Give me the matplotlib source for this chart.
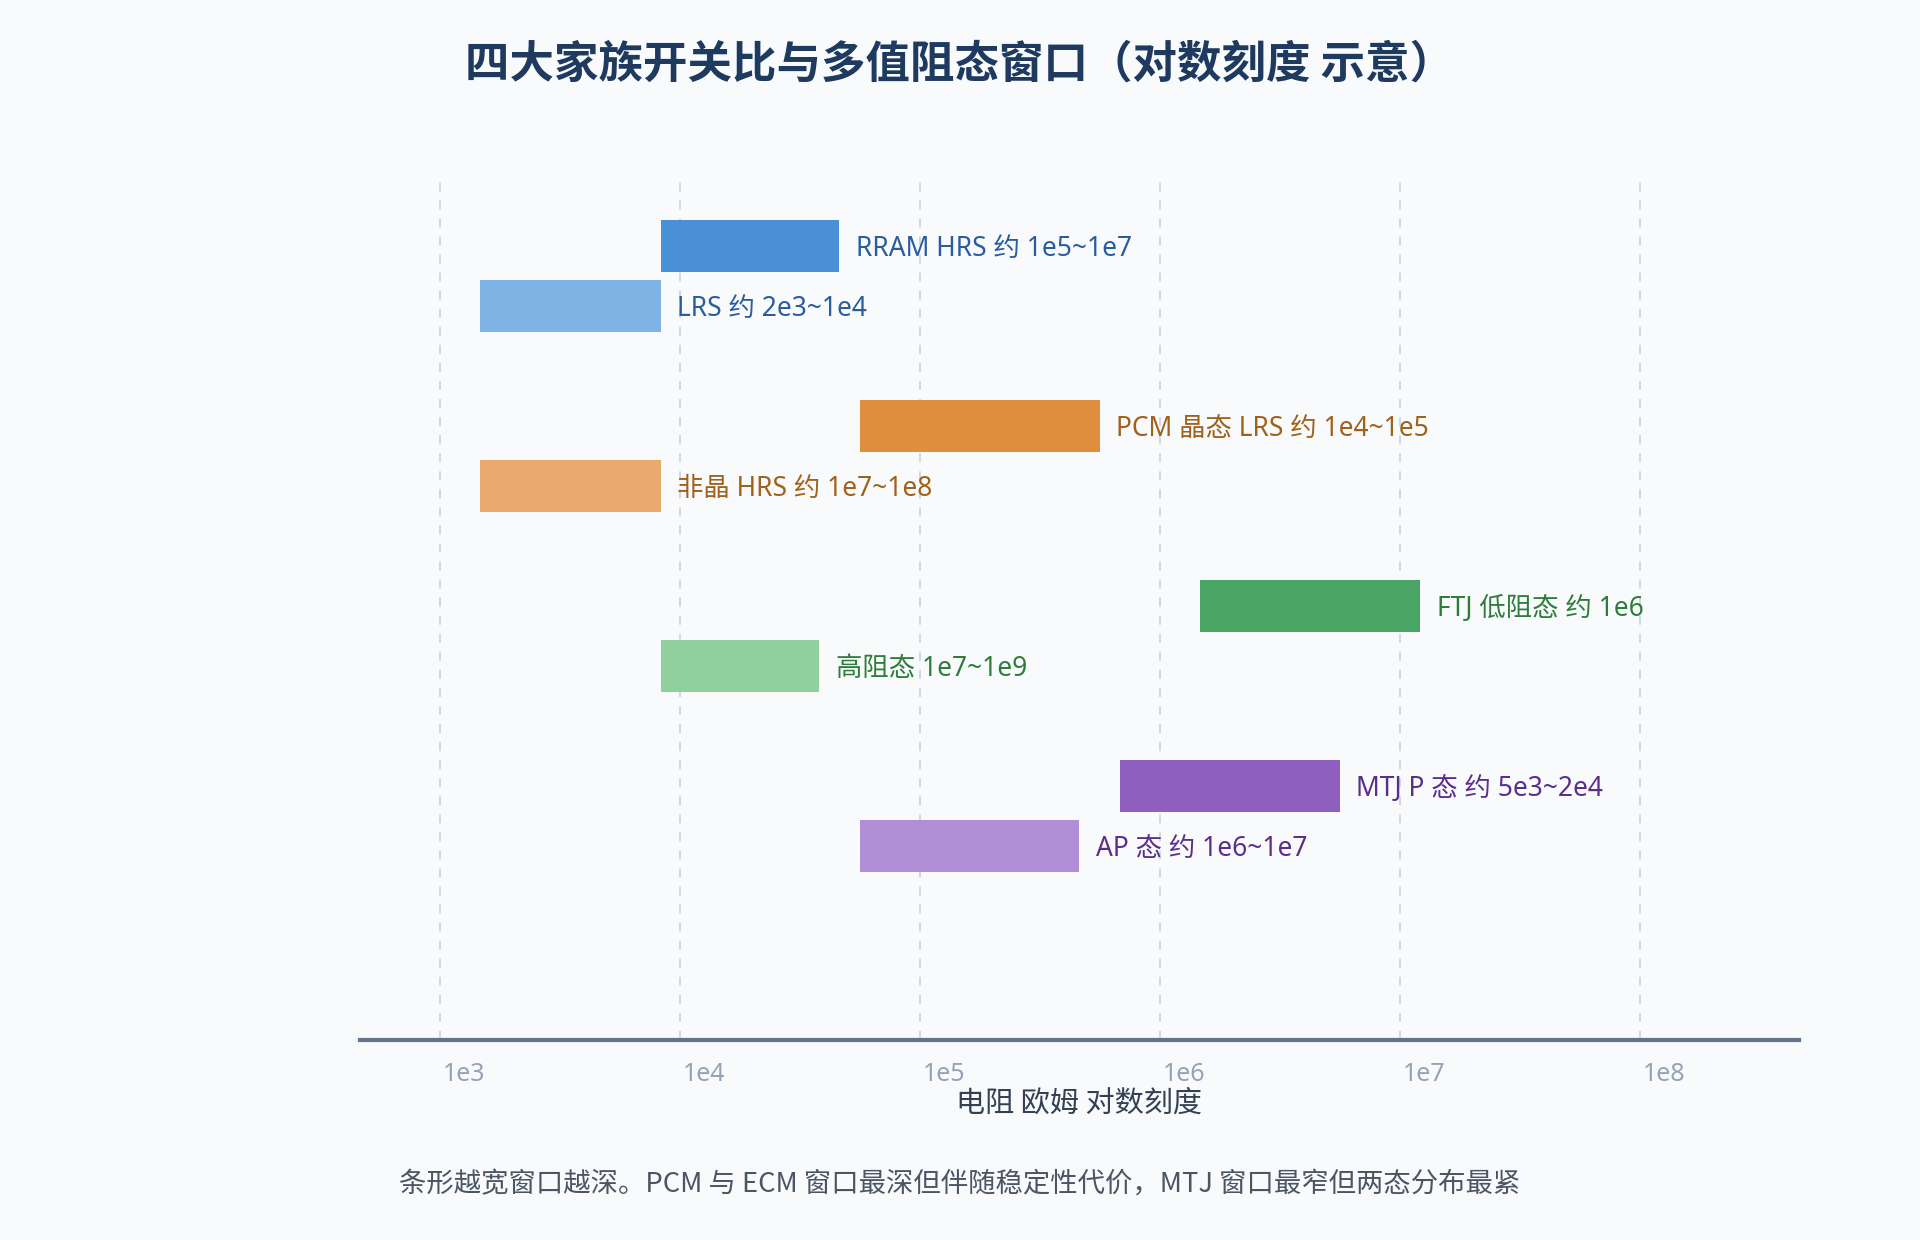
import numpy as np
import matplotlib
matplotlib.use("Agg")
from matplotlib import pyplot as plt
from matplotlib.transforms import ScaledTranslation

plt.rcParams['font.family'] = ['Noto Sans', 'Noto Sans CJK SC', 'DejaVu Sans']

# bar data (ohm)
labels = ["RRAM HRS 约 1e5~1e7", "LRS 约 2e3~1e4",
          "PCM 晶态 LRS 约 1e4~1e5", "非晶 HRS 约 1e7~1e8",
          "FTJ 低阻态 约 1e6", "高阻态 1e7~1e9",
          "MTJ P 态 约 5e3~2e4", "AP 态 约 1e6~1e7"]
r_start = [8.3e3, 1.47e3, 5.6e4, 1.47e3, 1.47e6, 8.3e3, 6.8e5, 5.6e4]
r_end = [4.6e4, 8.3e3, 5.6e5, 8.3e3, 1.21e7, 3.8e4, 5.6e6, 4.6e5]
rows = [0, 1, 3, 4, 6, 7, 9, 10]

bar_colors = ["#4a90d9", "#7fb2e5", "#e08e3c", "#e9aa6e",
              "#4aa664", "#90d09e", "#8f5fbf", "#b18fd6"]
text_colors = ["#2a5d9f", "#2a5d9f", "#a0611b", "#a0611b",
               "#2e7d3a", "#2e7d3a", "#5b2e8c", "#5b2e8c"]

tick_vals = [1e3, 1e4, 1e5, 1e6, 1e7, 1e8]
tick_text = ["1e3", "1e4", "1e5", "1e6", "1e7", "1e8"]

bg = "#f8fafc"
fig = plt.figure(figsize=(19.2, 12.4), dpi=100, facecolor=bg)
ax = fig.add_axes([360 / 1920, 200 / 1240, 1439 / 1920, 860 / 1240])
ax.set_facecolor(bg)

ax.set_xscale('log')
ax.set_xlim(10 ** 2.6667, 10 ** 8.6625)
ax.set_ylim(13.233, -1.1)

widths = np.array(r_end) - np.array(r_start)
ax.barh(rows, widths, left=r_start, height=0.867, color=bar_colors, zorder=3)

for i in range(len(labels)):
    ax.annotate(labels[i], xy=(r_end[i], rows[i]), xytext=(12, -2),
                textcoords='offset points', va='center', ha='left',
                fontsize=19, color=text_colors[i], zorder=4)

ax.set_xticks(tick_vals)
ax.set_xticklabels(tick_text)
ax.xaxis.set_minor_locator(matplotlib.ticker.NullLocator())
ax.set_yticks([])
ax.tick_params(axis='x', length=0, pad=16, labelsize=18, labelcolor="#94a3b8")
offset = ScaledTranslation(24 / 100, 0, fig.dpi_scale_trans)
for lab in ax.get_xticklabels():
    lab.set_transform(lab.get_transform() + offset)

ax.grid(axis='x', color="#cbd5e1", linestyle=(0, (5, 5)), linewidth=1.3, zorder=0)
for s in ['top', 'right', 'left']:
    ax.spines[s].set_visible(False)
ax.spines['bottom'].set_color("#64748b")
ax.spines['bottom'].set_linewidth(3)

ax.set_xlabel("电阻 欧姆 对数刻度", fontsize=21, color="#334155", labelpad=1,
              family=['Noto Sans CJK SC', 'DejaVu Sans'])

fig.text(0.5, 1 - 65 / 1240, "四大家族开关比与多值阻态窗口（对数刻度 示意）",
         ha='center', va='center', fontsize=32, fontweight='bold', color="#1e3a5f",
         family=['Noto Sans CJK SC', 'DejaVu Sans'])

fig.text(399 / 1920, 1 - 1184 / 1240,
         "条形越宽窗口越深。PCM 与 ECM 窗口最深但伴随稳定性代价，MTJ 窗口最窄但两态分布最紧",
         ha='left', va='center', fontsize=19.7, color="#4b5563",
         family=['Noto Sans CJK SC', 'DejaVu Sans'])

fig.savefig("out.png", dpi=100, facecolor=bg)
